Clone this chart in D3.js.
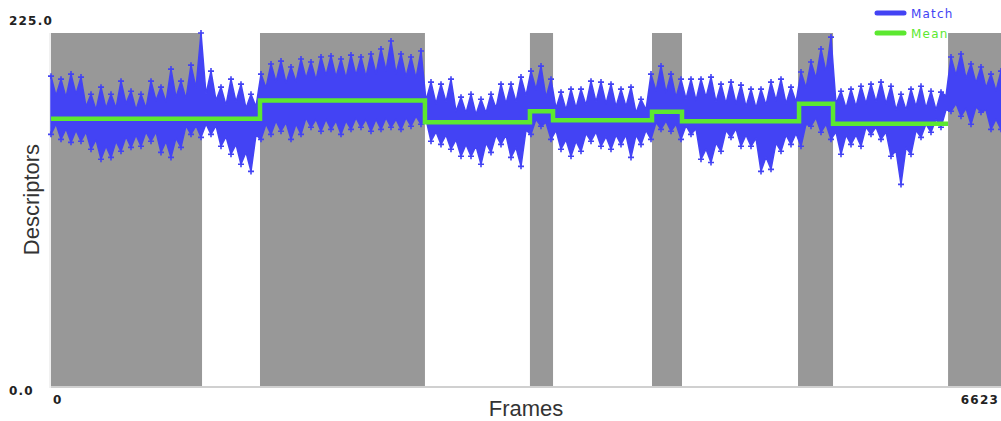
<!DOCTYPE html>
<html>
<head>
<meta charset="utf-8">
<script src="https://cdn.jsdelivr.net/npm/d3@7"></script>
<style>
  html, body { margin: 0; padding: 0; background: #fff; }
  svg { display: block; }
</style>
</head>
<body>
<svg id="chart" width="1001" height="421"></svg>
<script>
// Descriptor match counts per frame, sampled evenly over the clip.
const totalFrames = 6623;
const maxDescriptors = 225;

// Peak (upper) and trough (lower) of the match series in each sampling window.
const matchHigh = [
  197.5, 195.6, 198.8, 196.9, 186.0, 190.5, 186.0, 194.3, 187.9, 186.0,
  194.3, 190.5, 202.0, 194.3, 204.5, 225.0, 200.7, 190.5, 195.6, 192.4,
  186.0, 198.8, 205.2, 207.1, 203.3, 208.4, 206.5, 209.7, 210.3, 208.4,
  210.9, 209.7, 211.6, 214.8, 219.9, 211.6, 209.7, 213.5, 193.7, 192.4,
  195.6, 184.1, 186.0, 182.8, 186.0, 192.4, 192.4, 196.9, 200.7, 203.9,
  195.6, 187.3, 189.2, 189.2, 194.3, 193.7, 192.4, 189.2, 190.5, 182.8,
  198.8, 203.9, 198.8, 195.6, 195.6, 195.6, 196.9, 192.4, 193.7, 191.8,
  189.2, 189.2, 193.7, 195.6, 190.5, 200.1, 206.5, 214.8, 222.4, 187.9,
  189.2, 191.1, 192.4, 193.7, 191.1, 186.0, 189.2, 191.1, 187.9, 187.3,
  209.7, 211.6, 205.2, 203.3, 198.8, 200.7
];
const matchLow = [
  160.4, 157.2, 155.3, 156.0, 150.9, 144.5, 145.7, 149.6, 152.1, 152.8,
  156.0, 148.9, 145.7, 152.1, 160.4, 158.5, 160.4, 152.8, 147.7, 141.3,
  136.8, 157.2, 160.4, 162.4, 157.2, 160.4, 164.9, 162.4, 163.6, 160.4,
  163.6, 164.9, 162.4, 163.6, 164.9, 163.6, 165.6, 166.8, 156.0, 154.0,
  150.9, 146.4, 146.4, 141.3, 148.9, 154.0, 145.7, 140.0, 160.4, 165.6,
  157.2, 150.9, 146.4, 149.6, 156.0, 152.8, 150.9, 154.0, 145.7, 154.0,
  157.2, 163.6, 162.4, 157.2, 160.4, 144.5, 142.5, 149.6, 158.5, 152.8,
  152.8, 136.8, 138.1, 149.6, 154.0, 152.8, 165.6, 161.7, 157.2, 147.7,
  154.0, 152.8, 160.4, 157.2, 146.4, 128.5, 147.7, 158.5, 161.7, 164.9,
  175.1, 171.9, 166.8, 174.5, 163.6, 163.6
];
// Levels the series settles back to between neighbouring peaks / troughs.
const matchHighMid = [
  185, 184, 186, 178, 176, 177, 177, 180, 176, 177,
  182, 181, 184, 183, 190, 186, 182, 179, 181, 177,
  178, 190, 194, 193, 194, 196, 195, 198, 197, 196,
  198, 197, 199, 201, 199, 197, 196, 182, 180, 181,
  175, 174, 173, 174, 177, 180, 181, 185, 189, 184,
  177, 176, 177, 179, 181, 180, 178, 178, 174, 176,
  188, 187, 184, 183, 182, 184, 181, 180, 180, 178,
  177, 179, 182, 180, 181, 190, 196, 200, 180, 177,
  178, 180, 181, 180, 176, 176, 178, 177, 176, 185,
  198, 196, 193, 190, 188
];
const matchLowMid = [
  167, 164, 163, 162, 157, 153, 156, 159, 160, 162,
  162, 156, 158, 166, 166, 167, 166, 159, 154, 149,
  160, 167, 169, 168, 167, 171, 170, 170, 169, 169,
  171, 170, 170, 171, 170, 171, 172, 170, 162, 160,
  157, 154, 153, 155, 160, 160, 152, 163, 170, 168,
  163, 157, 156, 161, 162, 159, 160, 160, 160, 163,
  168, 169, 167, 166, 164, 151, 155, 163, 164, 160,
  158, 146, 155, 160, 161, 167, 171, 167, 162, 160,
  160, 165, 165, 162, 150, 152, 163, 167, 170, 176,
  180, 177, 178, 176, 170
];

// Mean descriptor count for each segment: start frame, end frame, mean.
const meanStart = [0, 1457, 2607, 3339, 3500, 4190, 4399, 5215, 5452];
const meanEnd   = [1457, 2607, 3339, 3500, 4190, 4399, 5215, 5452, 6254];
const meanValue = [170.3, 181.9, 168.1, 175.1, 169.4, 174.8, 168.7, 179.9, 167.2];

// Shaded frame ranges.
const bandStart = [0, 1457, 3339, 4190, 5208, 6254];
const bandEnd   = [1053, 2607, 3500, 4399, 5452, 6623];

const yTickLabels = ["0.0", "225.0"];
const xTickLabels = ["0", "6623"];
const legendNames = ["Match", "Mean"];

const colors = { match: "#4343f4", mean: "#5ce830", band: "#989898" };

const svg = d3.select("#chart");
const margin = { left: 51, right: 0, top: 33, bottom: 35 };
const W = 1001, H = 421;

const x = d3.scaleLinear().domain([0, totalFrames]).range([margin.left, W - margin.right]);
const y = d3.scaleLinear().domain([0, maxDescriptors]).range([H - margin.bottom, margin.top]);

const sampleStep = totalFrames / (matchHigh.length - 1);

// Outline points: each peak/trough followed by the level between it and the next.
const outline = [];
matchHigh.forEach((h, i) => {
  outline.push({ f: i * sampleStep, hi: h, lo: matchLow[i], tip: true });
  if (i < matchHighMid.length) {
    outline.push({ f: (i + 0.5) * sampleStep, hi: matchHighMid[i], lo: matchLowMid[i], tip: false });
  }
});

// Legend (sits beneath the shaded bands)
const legend = svg.append("g");
const legendColors = [colors.match, colors.mean];
legendNames.forEach((name, i) => {
  const ly = 13 + i * 20;
  legend.append("line")
    .attr("x1", 877).attr("x2", 904).attr("y1", ly).attr("y2", ly)
    .attr("stroke", legendColors[i]).attr("stroke-width", 5).attr("stroke-linecap", "round");
  legend.append("text")
    .attr("x", 911).attr("y", ly + 5)
    .attr("fill", legendColors[i])
    .attr("font-family", "DejaVu Sans, sans-serif")
    .attr("font-size", 12).attr("letter-spacing", 1.2)
    .text(name);
});

// Shaded frame ranges
svg.append("g").selectAll("rect")
  .data(bandStart.map((s, i) => ({ s, e: bandEnd[i] })))
  .join("rect")
  .attr("x", d => x(d.s))
  .attr("width", d => x(d.e) - x(d.s))
  .attr("y", y(maxDescriptors))
  .attr("height", y(0) - y(maxDescriptors))
  .attr("fill", colors.band);

// Axis lines
svg.append("line")
  .attr("x1", x(0)).attr("x2", x(totalFrames)).attr("y1", y(0) + 1).attr("y2", y(0) + 1)
  .attr("stroke", "#d0d0d0").attr("stroke-width", 2);
svg.append("line")
  .attr("x1", x(0) - 1).attr("x2", x(0) - 1).attr("y1", y(maxDescriptors)).attr("y2", y(0) + 2)
  .attr("stroke", "#e2e2e2").attr("stroke-width", 1);

// Match series: filled extent with jagged outline and point markers at the tips
const area = d3.area()
  .x(d => x(d.f)).y0(d => y(d.lo)).y1(d => y(d.hi));
svg.append("path")
  .datum(outline)
  .attr("d", area)
  .attr("fill", colors.match)
  .attr("stroke", colors.match)
  .attr("stroke-width", 1.5)
  .attr("stroke-linejoin", "round");

const markers = svg.append("g").attr("stroke", colors.match).attr("stroke-width", 1.6);
outline.filter(d => d.tip).forEach(d => {
  [d.hi, d.lo].forEach(v => {
    const px = x(d.f), py = y(v);
    markers.append("path").attr("d", `M${px - 3},${py}H${px + 3}M${px},${py - 3}V${py + 3}`);
  });
});

// Mean step line
const meanPts = [];
meanStart.forEach((s, i) => {
  meanPts.push({ f: s, v: meanValue[i] });
  meanPts.push({ f: meanEnd[i], v: meanValue[i] });
});
svg.append("path")
  .datum(meanPts)
  .attr("d", d3.line().x(d => x(d.f)).y(d => y(d.v)))
  .attr("fill", "none")
  .attr("stroke", colors.mean)
  .attr("stroke-width", 4.5);

// Tick labels
const tickFont = "DejaVu Sans, sans-serif";
const yTickVals = [0, maxDescriptors];
yTickVals.forEach((v, i) => {
  svg.append("text")
    .attr("x", 9)
    .attr("y", v === 0 ? y(v) + 9 : y(v) - 8)
    .attr("font-family", tickFont).attr("font-size", 12).attr("font-weight", "bold")
    .attr("letter-spacing", 1.2).attr("fill", "#222")
    .text(yTickLabels[i]);
});
const xTickVals = [0, totalFrames];
xTickVals.forEach((v, i) => {
  svg.append("text")
    .attr("x", v === 0 ? x(v) + 2 : x(v) - 2)
    .attr("y", y(0) + 18)
    .attr("text-anchor", v === 0 ? "start" : "end")
    .attr("font-family", tickFont).attr("font-size", 12).attr("font-weight", "bold")
    .attr("letter-spacing", 1.2).attr("fill", "#222")
    .text(xTickLabels[i]);
});

// Axis titles
svg.append("text")
  .attr("x", (x(0) + x(totalFrames)) / 2)
  .attr("y", 416)
  .attr("text-anchor", "middle")
  .attr("font-family", "Liberation Sans, Arial, sans-serif")
  .attr("font-size", 22).attr("fill", "#333")
  .text("Frames");
svg.append("text")
  .attr("transform", `translate(39, ${(y(0) + y(maxDescriptors)) / 2 - 10}) rotate(-90)`)
  .attr("text-anchor", "middle")
  .attr("font-family", "Liberation Sans, Arial, sans-serif")
  .attr("font-size", 22).attr("fill", "#333")
  .text("Descriptors");
</script>
</body>
</html>
